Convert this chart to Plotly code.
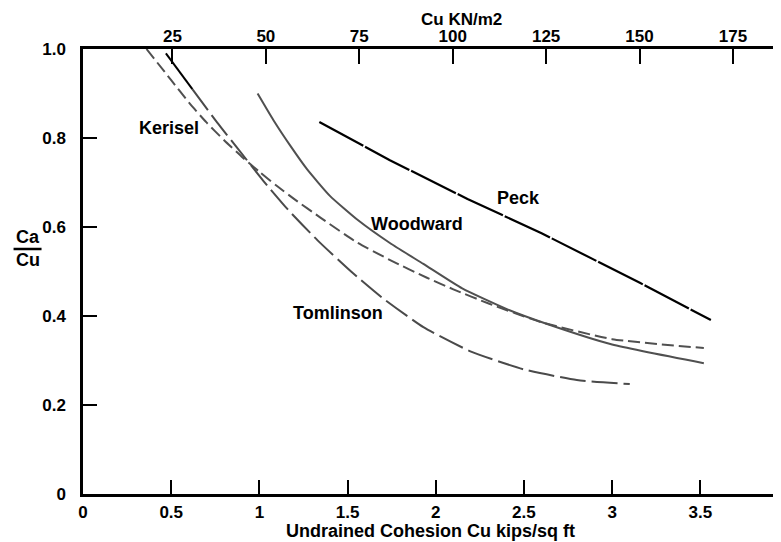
import plotly.graph_objects as go

# ---- data ----
peck_x = [1.34, 1.74, 2.18, 2.60, 3.16, 3.56]
peck_y = [0.836, 0.750, 0.663, 0.586, 0.474, 0.391]

woodward_x = [0.99, 1.08, 1.18, 1.27, 1.40, 1.56, 1.74, 1.93, 2.15, 2.40, 2.64, 3.00, 3.52]
woodward_y = [0.900, 0.840, 0.780, 0.730, 0.670, 0.615, 0.564, 0.517, 0.462, 0.416, 0.381, 0.336, 0.294]

kerisel_x = [0.36, 0.50, 0.60, 0.70, 0.80, 0.90, 1.00, 1.10, 1.20, 1.35, 1.55, 1.75, 1.95, 2.10, 2.30, 2.60, 3.00, 3.52]
kerisel_y = [1.000, 0.930, 0.880, 0.835, 0.795, 0.758, 0.724, 0.692, 0.662, 0.620, 0.566, 0.524, 0.486, 0.460, 0.428, 0.386, 0.348, 0.328]

tomlinson_x = [0.47, 0.62, 0.76, 0.88, 1.02, 1.16, 1.33, 1.52, 1.70, 1.93, 2.20, 2.50, 2.80, 3.10]
tomlinson_y = [0.990, 0.910, 0.835, 0.775, 0.705, 0.640, 0.570, 0.500, 0.440, 0.375, 0.320, 0.280, 0.256, 0.247]

x_ticks = [0, 0.5, 1, 1.5, 2, 2.5, 3, 3.5]
x_ticklabels = ["0", "0.5", "1", "1.5", "2", "2.5", "3", "3.5"]
top_ticks = [25, 50, 75, 100, 125, 150, 175]
y_ticks = [0, 0.2, 0.4, 0.6, 0.8, 1.0]
y_ticklabels = ["0", "0.2", "0.4", "0.6", "0.8", "1.0"]

labels = ["Kerisel", "Woodward", "Peck", "Tomlinson"]
label_x = [0.49, 1.895, 2.467, 1.448]
label_y = [0.822, 0.607, 0.665, 0.407]

# page is 781x542; the html body adds an 8px margin, so the figure is offset by 8px
PAGE_W, PAGE_H = 781, 542
OFF = 8
W, H = PAGE_W - OFF, PAGE_H - OFF
# plot area in page pixels: x 82.5..781, y 49..494
L = 82.5 - OFF
T = 49 - OFF
R = 0
B = PAGE_H - 494
PX_PER_X = 176.5
X_MAX = (W - L - R) / PX_PER_X
KN0, KN1 = 1.07, 187.85

FONT = "Liberation Sans, Arial, sans-serif"

fig = go.Figure()

fig.add_trace(go.Scatter(x=peck_x, y=peck_y, mode="lines",
                         line=dict(color="#000000", width=2.2, dash="50px,2px"),
                         hoverinfo="skip", showlegend=False))
fig.add_trace(go.Scatter(x=woodward_x, y=woodward_y, mode="lines",
                         line=dict(color="#505050", width=2, shape="spline", smoothing=0.5),
                         hoverinfo="skip", showlegend=False))
fig.add_trace(go.Scatter(x=kerisel_x, y=kerisel_y, mode="lines",
                         line=dict(color="#505050", width=2, dash="12px,5px", shape="spline", smoothing=0.5),
                         hoverinfo="skip", showlegend=False))
fig.add_trace(go.Scatter(x=tomlinson_x[1:], y=tomlinson_y[1:], mode="lines",
                         line=dict(color="#4a4a4a", width=2, dash="26px,6px", shape="spline", smoothing=0.5),
                         hoverinfo="skip", showlegend=False))
fig.add_trace(go.Scatter(x=tomlinson_x[:2], y=tomlinson_y[:2], mode="lines",
                         line=dict(color="#000000", width=2),
                         hoverinfo="skip", showlegend=False))
# carrier trace for the top (kN/m2) axis and right tick axis
fig.add_trace(go.Scatter(x=[None], y=[None], xaxis="x2", yaxis="y2", mode="lines",
                         hoverinfo="skip", showlegend=False))

tickfont = dict(family=FONT, size=17, color="#000000", weight="bold")

fig.update_layout(
    width=W, height=H,
    margin=dict(l=L, r=R, t=T, b=B, pad=0, autoexpand=False),
    paper_bgcolor="white", plot_bgcolor="white",
    showlegend=False,
    xaxis=dict(range=[0, X_MAX], tickvals=x_ticks, ticktext=x_ticklabels,
               ticks="inside", ticklen=14, tickwidth=2, tickcolor="black",
               showline=True, linewidth=2.5, linecolor="black",
               showgrid=False, zeroline=False, tickfont=tickfont,
               ticklabelstandoff=1, automargin=False),
    yaxis=dict(range=[0, 1], tickvals=y_ticks, ticktext=y_ticklabels,
               ticks="inside", ticklen=14, tickwidth=2, tickcolor="black",
               showline=True, linewidth=2.5, linecolor="black",
               showgrid=False, zeroline=False, tickfont=tickfont,
               ticklabelstandoff=11, automargin=False),
    xaxis2=dict(range=[KN0, KN1], overlaying="x", side="top", anchor="y",
                tickvals=top_ticks, ticks="inside", ticklen=15, tickwidth=2,
                tickcolor="black", showline=True, linewidth=2.5, linecolor="black",
                showgrid=False, zeroline=False, tickfont=tickfont,
                ticklabelstandoff=-3, automargin=False),
    yaxis2=dict(range=[0, 1], overlaying="y", side="right", anchor="x",
                tickvals=[0.2, 0.4, 0.6, 0.8], ticks="inside", ticklen=7, tickwidth=2,
                tickcolor="black", showline=False, showticklabels=False,
                showgrid=False, zeroline=False, automargin=False),
)

def px_to_paper_x(px):
    # px in page pixels
    return (px - OFF - L) / (W - L - R)

def py_to_paper_y(py):
    return (H - B - (py - OFF)) / (H - T - B)

lab_font = dict(family=FONT, size=18, color="#000000", weight="bold")

for t, xv, yv in zip(labels, label_x, label_y):
    fig.add_annotation(x=xv, y=yv, xref="x", yref="y", text=t, showarrow=False,
                       font=lab_font, xanchor="center", yanchor="middle")

fig.add_annotation(x=px_to_paper_x(430), y=py_to_paper_y(531), xref="paper", yref="paper",
                   text="Undrained Cohesion Cu kips/sq ft", showarrow=False, font=lab_font,
                   xanchor="center", yanchor="middle")
fig.add_annotation(x=px_to_paper_x(461), y=py_to_paper_y(20), xref="paper", yref="paper",
                   text="Cu KN/m2", showarrow=False, font=tickfont,
                   xanchor="center", yanchor="middle")
fig.add_annotation(x=px_to_paper_x(27), y=py_to_paper_y(237), xref="paper", yref="paper",
                   text="Ca", showarrow=False, font=lab_font,
                   xanchor="center", yanchor="middle")
fig.add_annotation(x=px_to_paper_x(27), y=py_to_paper_y(260), xref="paper", yref="paper",
                   text="Cu", showarrow=False, font=lab_font,
                   xanchor="center", yanchor="middle")
fig.add_shape(type="line", xref="paper", yref="paper",
              x0=px_to_paper_x(13), x1=px_to_paper_x(41),
              y0=py_to_paper_y(249), y1=py_to_paper_y(249),
              line=dict(color="black", width=2.5))

fig.write_html("out.html")
